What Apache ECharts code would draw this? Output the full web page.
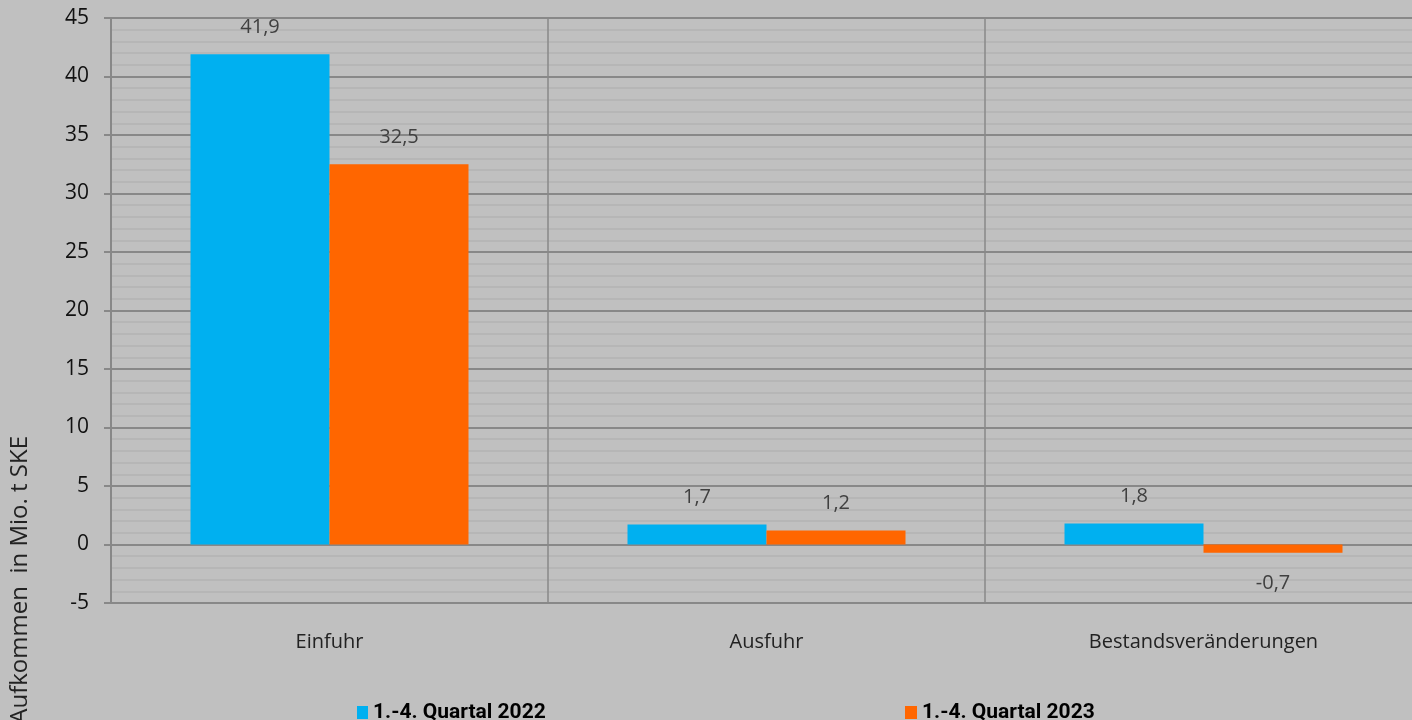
<!DOCTYPE html>
<html><head><meta charset="utf-8">
<script src="https://cdn.jsdelivr.net/npm/echarts@6/dist/echarts.min.js"></script>
<style>html,body{margin:0;padding:0;background:#c0c0c0;overflow:hidden;width:1412px;height:720px;}#c{width:1422px;height:720px;}</style>
</head><body><div id="c"></div>
<script>
const categories = ['Einfuhr', 'Ausfuhr', 'Bestandsveränderungen'];
const series2022 = [41.9, 1.7, 1.8];
const series2023 = [32.5, 1.2, -0.7];
const seriesNames = ['1.-4. Quartal 2022', '1.-4. Quartal 2023'];
const yAxisTitle = 'Aufkommen  in Mio. t SKE';

const fmt = p => String(p.value).replace('.', ',');
function toData(arr) {
  return arr.map(v => v < 0 ? { value: v, label: { position: 'bottom', distance: 21 } } : v);
}
const legendText = { fontFamily: 'Liberation Sans Narrow, Roboto, sans-serif', fontWeight: 'bold', fontSize: 21, color: '#000' };
const chart = echarts.init(document.getElementById('c'));
chart.setOption({
  backgroundColor: '#c0c0c0',
  animation: false,
  grid: { left: 111, top: 18, height: 585, right: 0 },
  legend: [
    { data: [{ name: seriesNames[0], icon: 'rect' }], left: 352, top: 697, itemWidth: 11, itemHeight: 13, itemGap: 6, textStyle: legendText },
    { data: [{ name: seriesNames[1], icon: 'rect' }], left: 900, top: 697, itemWidth: 12, itemHeight: 13, itemGap: 6, textStyle: legendText }
  ],
  graphic: [{
    type: 'text', left: 8, top: 436, rotation: Math.PI / 2,
    style: { text: yAxisTitle, fontFamily: 'Open Sans, sans-serif', fontSize: 24, fill: '#222' }
  }],
  xAxis: {
    type: 'category', data: categories,
    axisLine: { onZero: false, lineStyle: { color: '#888', width: 1.5 } },
    axisTick: { show: false },
    axisLabel: { margin: 29, fontFamily: 'Open Sans, sans-serif', fontSize: 20, color: '#222' },
    splitLine: { show: true, lineStyle: { color: '#888', width: 1.5 } }
  },
  yAxis: {
    type: 'value', min: -5, max: 45, interval: 5,
    axisLine: { show: true, lineStyle: { color: '#888', width: 2 } },
    axisTick: { show: true, length: 7, lineStyle: { color: '#888', width: 2 } },
    axisLabel: { margin: 22, fontFamily: 'Open Sans, sans-serif', fontSize: 21, color: '#111' },
    splitLine: { lineStyle: { color: '#888', width: 2 } },
    minorTick: { show: false, splitNumber: 5 },
    minorSplitLine: { show: true, lineStyle: { color: '#b2b2b2', width: 1.5 } }
  },
  series: [
    { name: seriesNames[0], type: 'bar', data: toData(series2022), barWidth: 139, barGap: '0%',
      itemStyle: { color: '#00b0f0' },
      label: { show: true, position: 'top', distance: 17, formatter: fmt, fontFamily: 'Open Sans, sans-serif', fontSize: 20, color: '#404040' } },
    { name: seriesNames[1], type: 'bar', data: toData(series2023), barWidth: 139, barGap: '0%',
      itemStyle: { color: '#ff6600' },
      label: { show: true, position: 'top', distance: 17, formatter: fmt, fontFamily: 'Open Sans, sans-serif', fontSize: 20, color: '#404040' } }
  ]
});
</script></body></html>
